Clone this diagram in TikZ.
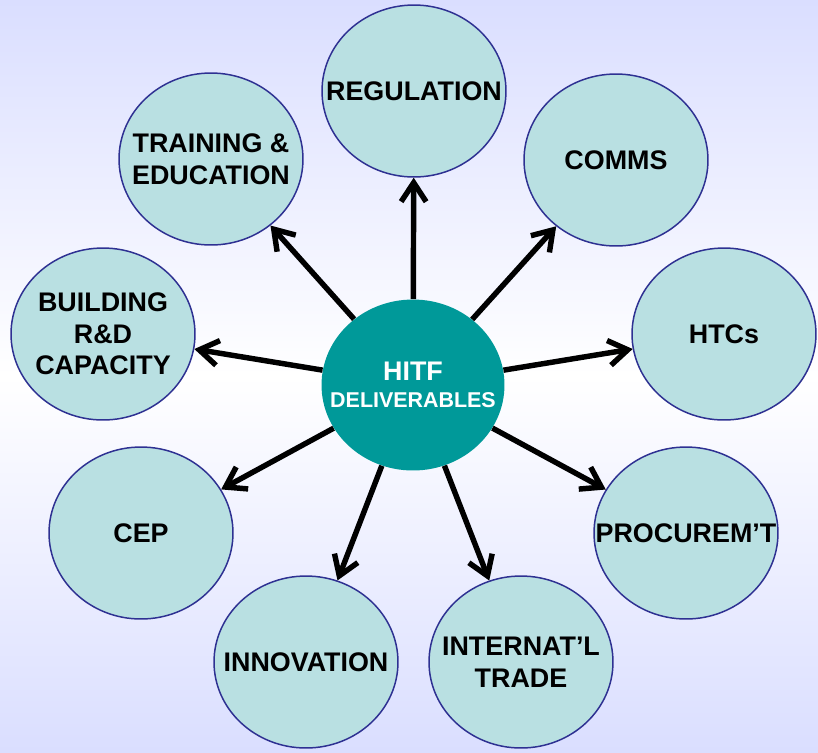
\documentclass[tikz,border=0pt]{standalone}
\usepackage{fontspec}
\setmainfont{Liberation Sans}
\usetikzlibrary{shapes.geometric,arrows.meta}
\definecolor{bubblefill}{RGB}{185,224,226}
\definecolor{bubbleline}{RGB}{46,49,146}
\definecolor{hubfill}{RGB}{0,153,153}
\definecolor{slidetop}{RGB}{218,222,255}

\begin{document}
\begin{tikzpicture}[x=0.02cm,y=-0.02cm]
\tikzstyle{bubble}=[ellipse,draw=bubbleline,line width=0.85pt,fill=bubblefill,minimum width=3.68cm,minimum height=3.44cm,inner sep=0pt]
\tikzstyle{hub}=[ellipse,fill=hubfill,minimum width=3.66cm,minimum height=3.42cm,inner sep=0pt]
\tikzstyle{every label}=[font=\fontsize{15.3}{18}\selectfont\bfseries,align=center,inner sep=0pt]
\tikzstyle{spoke}=[line width=3.1pt,-{Straight Barb[length=3.8mm,width=5mm]}]
\useasboundingbox (0,0) rectangle (818,752);
\shade [top color=slidetop,bottom color=white] (0,0) rectangle (818,376);
\shade [top color=white,bottom color=slidetop] (0,376) rectangle (818,752);
\node [hub,label={[text=white]center:{HITF\\[-3pt]{\fontsize{12.2}{14}\selectfont DELIVERABLES}}}] (hub) at (413,385) {};
\node [bubble,label={center:REGULATION}] (reg) at (414,91) {};
\node [bubble,label={center:COMMS}] (comms) at (616,160) {};
\node [bubble,label={center:HTCs}] (htcs) at (724,334) {};
\node [bubble,label={center:PROCUREM’T}] (proc) at (686,533) {};
\node [bubble,label={center:{INTERNAT’L\\TRADE}}] (trade) at (521,662) {};
\node [bubble,label={center:INNOVATION}] (innov) at (306,662) {};
\node [bubble,label={center:CEP}] (cep) at (141,533) {};
\node [bubble,label={center:{BUILDING\\R\&D\\CAPACITY}}] (build) at (103,334) {};
\node [bubble,label={center:{TRAINING \&\\EDUCATION}}] (train) at (211,159) {};
\draw [spoke] (hub) -- (reg);
\draw [spoke] (hub) -- (comms);
\draw [spoke] (hub) -- (htcs);
\draw [spoke] (hub) -- (proc);
\draw [spoke] (hub) -- (trade);
\draw [spoke] (hub) -- (innov);
\draw [spoke] (hub) -- (cep);
\draw [spoke] (hub) -- (build);
\draw [spoke] (hub) -- (train);
\end{tikzpicture}
\end{document}
